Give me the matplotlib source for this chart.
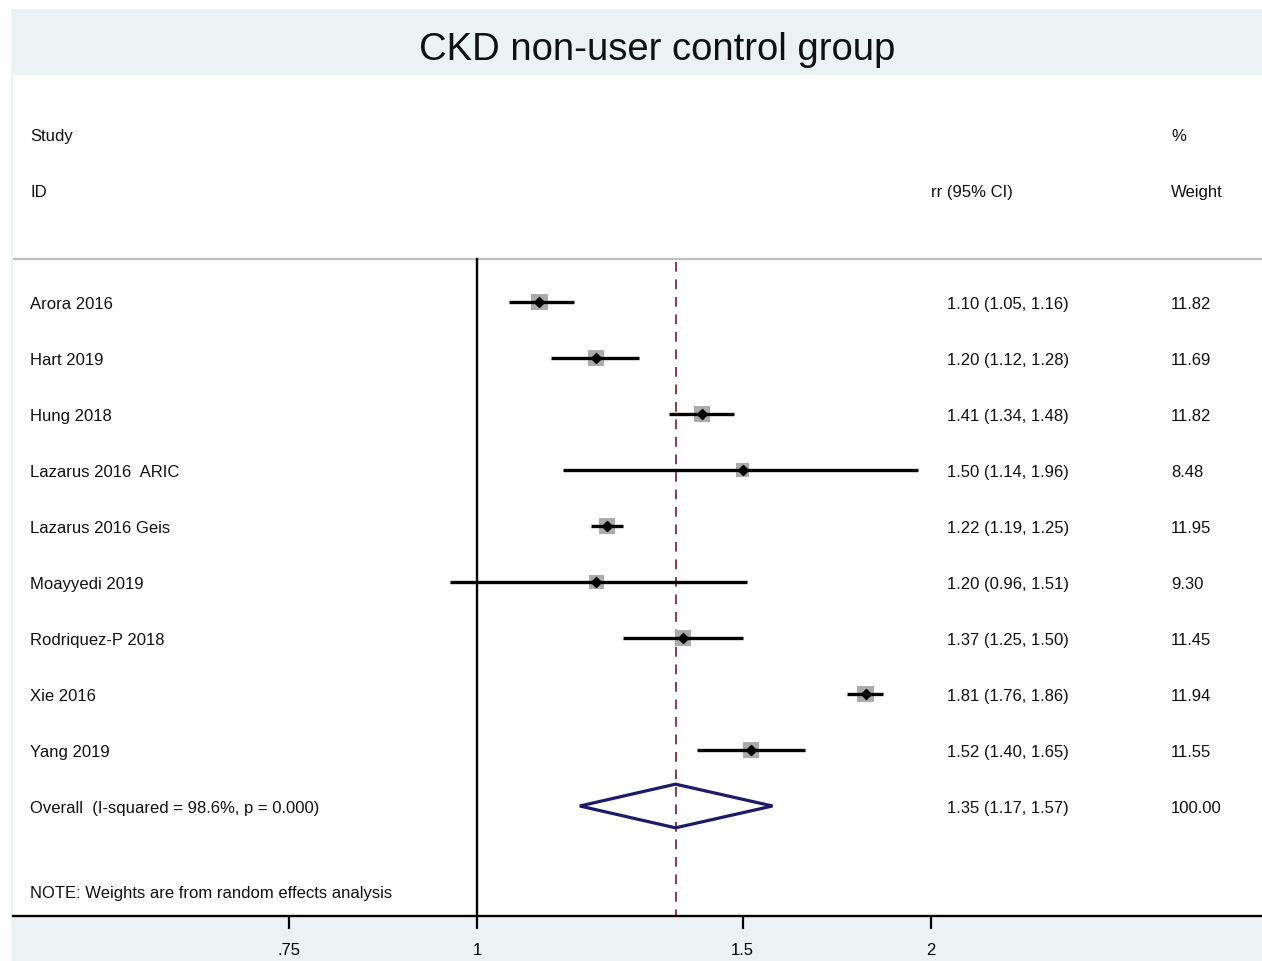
import matplotlib
matplotlib.use("Agg")
import math
import matplotlib.pyplot as plt
import matplotlib.transforms as mtransforms
from matplotlib.patches import Polygon

plt.rcParams['font.family'] = ['Liberation Sans', 'DejaVu Sans']

title = "CKD non-user control group"
studies = ["Arora 2016", "Hart 2019", "Hung 2018", "Lazarus 2016  ARIC",
           "Lazarus 2016 Geis", "Moayyedi 2019", "Rodriquez-P 2018",
           "Xie 2016", "Yang 2019"]
rr = [1.10, 1.20, 1.41, 1.50, 1.22, 1.20, 1.37, 1.81, 1.52]
lo = [1.05, 1.12, 1.34, 1.14, 1.19, 0.96, 1.25, 1.76, 1.40]
hi = [1.16, 1.28, 1.48, 1.96, 1.25, 1.51, 1.50, 1.86, 1.65]
weights = [11.82, 11.69, 11.82, 8.48, 11.95, 9.30, 11.45, 11.94, 11.55]

overall_label = "Overall  (I-squared = 98.6%, p = 0.000)"
overall_rr = 1.354
overall_lo = 1.17
overall_hi = 1.57
overall_text = "1.35 (1.17, 1.57)"
overall_weight = "100.00"
note = "NOTE: Weights are from random effects analysis"

xticks = [0.75, 1, 1.5, 2]
xticklabels = [".75", "1", "1.5", "2"]

W, H = 1262, 962
fig = plt.figure(figsize=(W / 100, H / 100), dpi=100, facecolor="white")

band = "#EAF2F3"
bg = fig.add_axes([11 / W, 0, 1 - 11 / W, 1 - 10 / H], zorder=-10)
bg.set_facecolor(band)
bg.set_xticks([])
bg.set_yticks([])
for s in bg.spines.values():
    s.set_visible(False)

ax_left, ax_right = 13, 1262
ax_top, ax_bot = 76, 917
ax = fig.add_axes([ax_left / W, (H - ax_bot) / H, (ax_right - ax_left) / W,
                   (ax_bot - ax_top) / H], zorder=1)
ax.set_facecolor("white")
ax.set_xscale("log")

# x scale: 1 at px 477, 2 at px 931
ppl = (931 - 477) / math.log(2)
xmin = math.exp(-(477 - ax_left) / ppl)
xmax = math.exp((ax_right - 477) / ppl)
ax.set_xlim(xmin, xmax)

row0, rstep = 303, 56
ax.set_ylim((ax_bot - row0) / rstep, (ax_top - row0) / rstep)

for s in ["top", "left", "right"]:
    ax.spines[s].set_visible(False)
ax.spines["bottom"].set_linewidth(1.7)
ax.spines["bottom"].set_color("black")
ax.set_yticks([])
ax.set_xticks(xticks)
ax.set_xticklabels(xticklabels)
ax.xaxis.set_minor_locator(matplotlib.ticker.NullLocator())
ax.tick_params(axis="x", direction="out", length=9.5, width=1.6,
               pad=9, labelsize=12, colors="black")

y_grey = (260 - row0) / rstep
y_bottom = (ax_bot - row0) / rstep
ax.axhline(y_grey, color="#BEBEBE", lw=1.6, zorder=1)
ax.plot([1, 1], [y_grey, y_bottom], color="black", lw=1.7, zorder=2)
ax.plot([overall_rr, overall_rr], [y_grey + 0.05, y_bottom], color="#8E3A4A",
        lw=1.4, ls=(0, (5, 4)), zorder=2)

rows = list(range(len(studies)))
for i in rows:
    ax.plot([lo[i], hi[i]], [i, i], color="black", lw=2.4, zorder=4,
            solid_capstyle="butt")
ax.scatter(rr, rows, marker="s", s=[w * 11.5 for w in weights],
           color="#ABABAB", edgecolors="none", zorder=3)
ax.scatter(rr, rows, marker="D", s=26, color="black", zorder=5)

orow = len(studies)
dh = 0.39
diamond = Polygon([(overall_lo, orow), (overall_rr, orow - dh),
                   (overall_hi, orow), (overall_rr, orow + dh)],
                  closed=True, fill=False, edgecolor="#1B1B6B", lw=2.3,
                  zorder=4, joinstyle="miter")
ax.add_patch(diamond)

tr = mtransforms.blended_transform_factory(fig.transFigure, ax.transData)
fs = 12
tc = "#111111"
dy = 0.035

def put(xpx, row, s, **kw):
    ax.text(xpx / W, row + dy, s, transform=tr, fontsize=fs, color=tc,
            va="center", ha="left", **kw)

put(30, -3, "Study")
put(30, -2, "ID")
put(931, -2, "rr (95% CI)")
put(1171, -3, "%")
put(1171, -2, "Weight")

for i in rows:
    put(30, i, studies[i])
    put(947, i, f"{rr[i]:.2f} ({lo[i]:.2f}, {hi[i]:.2f})")
    put(1171, i, f"{weights[i]:.2f}")

put(30, orow, overall_label)
put(947, orow, overall_text)
put(1171, orow, overall_weight)
put(30, (892 - row0) / rstep, note)

fig.text(657 / W, 1 - 50 / H, title, ha="center", va="center",
         fontsize=27.5, color=tc)

fig.savefig("out.png", dpi=100, facecolor="white")
